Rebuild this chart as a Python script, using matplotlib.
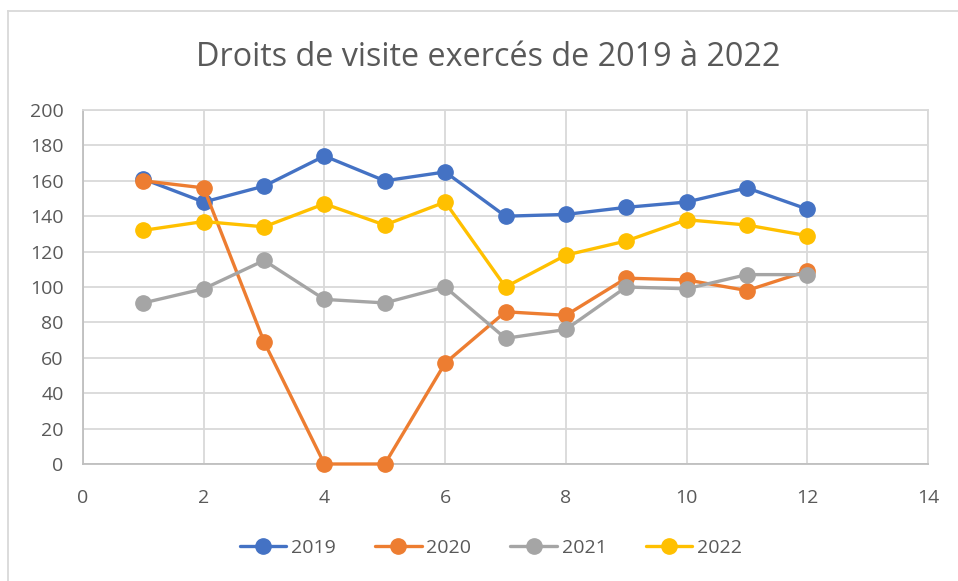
import matplotlib
matplotlib.use('Agg')
import matplotlib.pyplot as plt
from matplotlib.lines import Line2D

plt.rcParams['font.family'] = ['Open Sans', 'DejaVu Sans']

mois = [1, 2, 3, 4, 5, 6, 7, 8, 9, 10, 11, 12]
v2019 = [161, 148, 157, 174, 160, 165, 140, 141, 145, 148, 156, 144]
v2020 = [160, 156, 69, 0, 0, 57, 86, 84, 105, 104, 98, 109]
v2021 = [91, 99, 115, 93, 91, 100, 71, 76, 100, 99, 107, 107]
v2022 = [132, 137, 134, 147, 135, 148, 100, 118, 126, 138, 135, 129]
annees = ['2019', '2020', '2021', '2022']
couleurs = ['#4472C4', '#ED7D31', '#A5A5A5', '#FFC000']

txt = '#595959'
fig = plt.figure(figsize=(9.58, 5.81), dpi=100)
ax = fig.add_axes([83/958, 1-464/581, (928-83)/958, (464-110)/581])

for serie, nom, c in zip([v2019, v2020, v2021, v2022], annees, couleurs):
    ax.plot(mois, serie, color=c, lw=2.4, marker='o', ms=11, label=nom,
            solid_capstyle='round', clip_on=False, zorder=3)

ax.set_xlim(0, 14)
ax.set_ylim(0, 200)
ax.set_xticks(range(0, 15, 2))
ax.set_yticks(range(0, 201, 20))
ax.grid(True, color='#D9D9D9', lw=1.3)
ax.set_axisbelow(True)
for s in ax.spines.values():
    s.set_color('#D9D9D9')
    s.set_linewidth(1.3)
ax.spines['bottom'].set_color('#BFBFBF')
ax.spines['left'].set_color('#BFBFBF')
ax.tick_params(length=0, labelsize=14, labelcolor=txt)
ax.tick_params(axis='x', pad=18)
ax.tick_params(axis='y', pad=14)

fig.text(488/958, 1-57/581, 'Droits de visite exercés de 2019 à 2022',
         ha='center', va='center', fontsize=23.3, color=txt)

fig.legend(loc='center', bbox_to_anchor=(491/958, 1-548/581), ncol=4, frameon=False,
           fontsize=14, labelcolor=txt, handlelength=2.4, columnspacing=2.0,
           handletextpad=0.25)

# cadre du graphique
fig.add_artist(Line2D([8/958, 8/958], [0, 1-11/581], color='#D9D9D9', lw=1.3,
                      transform=fig.transFigure))
fig.add_artist(Line2D([8/958, 1], [1-11/581, 1-11/581], color='#D9D9D9', lw=1.3,
                      transform=fig.transFigure))

fig.savefig('out.png', dpi=100, facecolor='white')
